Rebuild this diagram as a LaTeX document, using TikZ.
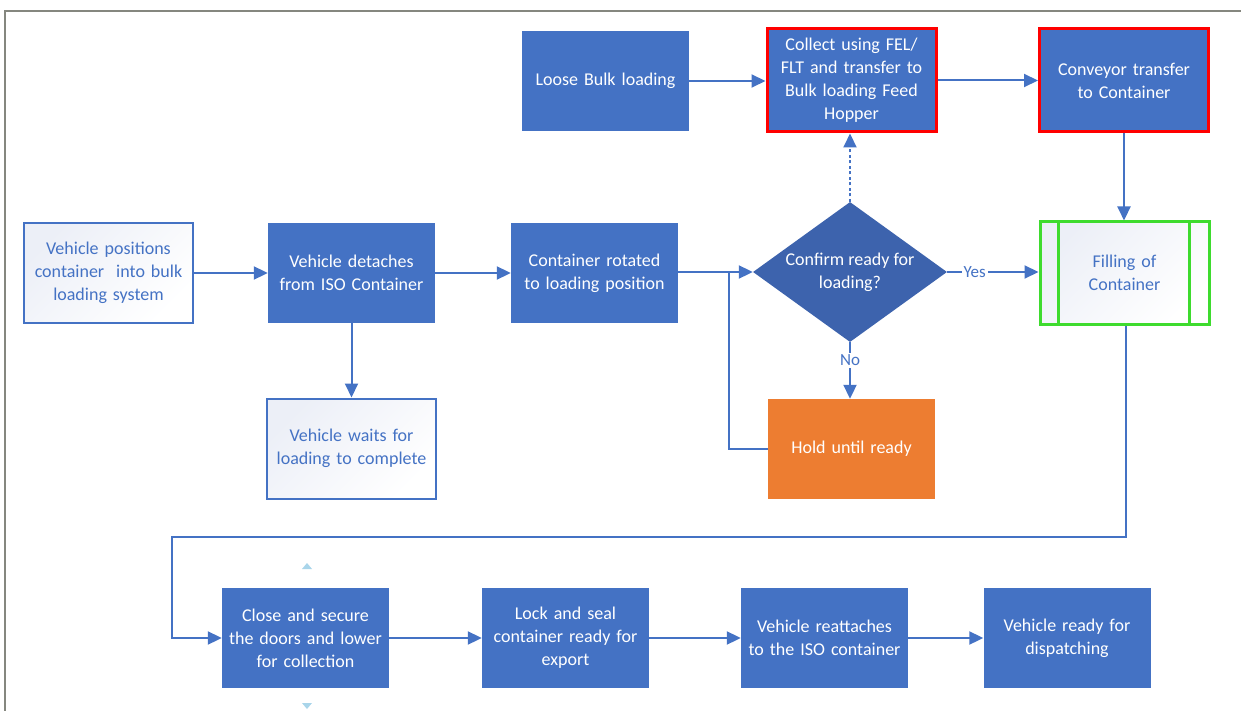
\documentclass[tikz,border=0pt]{standalone}
\usepackage{fontspec}
\setmainfont{Carlito}
\usetikzlibrary{arrows.meta,shapes.geometric,calc}
\definecolor{cblue}{HTML}{4472C4}
\definecolor{cdark}{HTML}{3D63AD}
\definecolor{corange}{HTML}{ED7D31}
\definecolor{cred}{HTML}{FF0000}
\definecolor{cgreen}{HTML}{3EDB2E}
\definecolor{cshade}{HTML}{ECEFF7}
\definecolor{chandle}{HTML}{A9D5EA}
\definecolor{cframe}{HTML}{85877F}
\tikzset{
  every node/.style={font=\fontsize{18}{23}\selectfont, align=center},
  box/.style={rectangle, minimum width=167pt, minimum height=100pt, inner sep=2pt, text width=163pt},
  solidbox/.style={box, fill=cblue, text=white},
  lightbox/.style={box, draw=cblue, line width=2pt, text=cblue,
    left color=cshade, right color=white, shading angle=45, minimum width=169pt},
  redbox/.style={solidbox, draw=cred, line width=3pt, minimum width=169pt, minimum height=103pt},
  holdbox/.style={box, fill=corange, text=white},
  decision/.style={diamond, fill=cdark, minimum width=194pt, minimum height=140pt, inner sep=0pt},
  conn/.style={draw=cblue, line width=2pt},
  arr/.style={conn, -{Triangle[length=14pt,width=13pt]}},
  lbl/.style={fill=white, text=cblue, inner sep=2pt, font=\fontsize{17}{20}\selectfont},
}
\begin{document}
\begin{tikzpicture}[x=1pt,y=-1pt]
\useasboundingbox (0,0) rectangle (1241,711);
% outer frame
\draw[cframe, line width=2pt] (5,711) -- (5,11) -- (1241,11);

% top row
\node[solidbox] (loose) at (605.5,81) {Loose Bulk loading};
\node[redbox] (collect) at (851.5,80.5) {Collect using FEL/\\FLT and transfer to\\Bulk loading Feed\\Hopper};
\node[redbox] (conv) at (1124,80.5) {Conveyor transfer\\to Container};

% middle row
\node[lightbox] (pos) at (108.5,273) {Vehicle positions\\container\ \ into bulk\\loading system};
\node[solidbox] (detach) at (351.5,273) {Vehicle detaches\\from ISO Container};
\node[solidbox] (rotate) at (594.5,273) {Container rotated\\to loading position};
\node[decision] (dec) at (850,272) {};
\node[text=white] at (dec) {Confirm ready for\\loading?};
\node[lightbox, draw=cgreen, line width=3pt, text=cblue, minimum width=169pt, minimum height=102pt] (fill) at (1124.5,273) {Filling of\\Container};
\draw[cgreen, line width=3pt] ([xshift=20pt]fill.north west) -- ([xshift=20pt]fill.south west);
\draw[cgreen, line width=3pt] ([xshift=-21pt]fill.north east) -- ([xshift=-21pt]fill.south east);

% lower middle row
\node[lightbox] (wait) at (351.5,448.5) {Vehicle waits for\\loading to complete};
\node[holdbox] (hold) at (851.5,449) {Hold until ready};

% bottom row
\node[solidbox] (close) at (305.5,638) {Close and secure\\the doors and lower\\for collection};
\node[solidbox] (lock) at (565.5,638) {Lock and seal\\container ready for\\export};
\node[solidbox] (reatt) at (824.5,638) {Vehicle reattaches\\to the ISO container};
\node[solidbox] (ready) at (1067,638) {Vehicle ready for\\dispatching};

% handles around the selected step
\fill[chandle] (302,569) -- (312,569) -- (307,563) -- cycle;
\fill[chandle] (302,703) -- (312,703) -- (307,709) -- cycle;

% connectors
\coordinate (join) at (729,272);
\coordinate (turn) at (172,537);
\draw[arr] (pos) -- (detach);
\draw[arr] (detach) -- (rotate);
\draw[arr] (rotate.east |- dec.west) -- (dec.west);
\draw[conn] (hold.west) -| (join);
\draw[arr] (detach.south) -- (wait.north);
\draw[arr] (dec.east) -- node[lbl, pos=0.3] {Yes} (fill.west |- dec.east);
\draw[arr] (dec.south) -- node[lbl, pos=0.32] {No} (hold.north -| dec.south);
\draw[arr, dash pattern=on 3pt off 2.5pt] (dec.north) -- (collect.south -| dec.north);
\draw[arr] (loose.east) -- (collect.west |- loose.east);
\draw[arr] (collect.east) -- (conv.west);
\draw[arr] (conv.south) -- (fill.north -| conv.south);
\draw[arr] ([xshift=1.5pt]fill.south) |- (turn) |- (close.west);
\draw[arr] (close) -- (lock);
\draw[arr] (lock) -- (reatt);
\draw[arr] (reatt) -- (ready);
\end{tikzpicture}
\end{document}
